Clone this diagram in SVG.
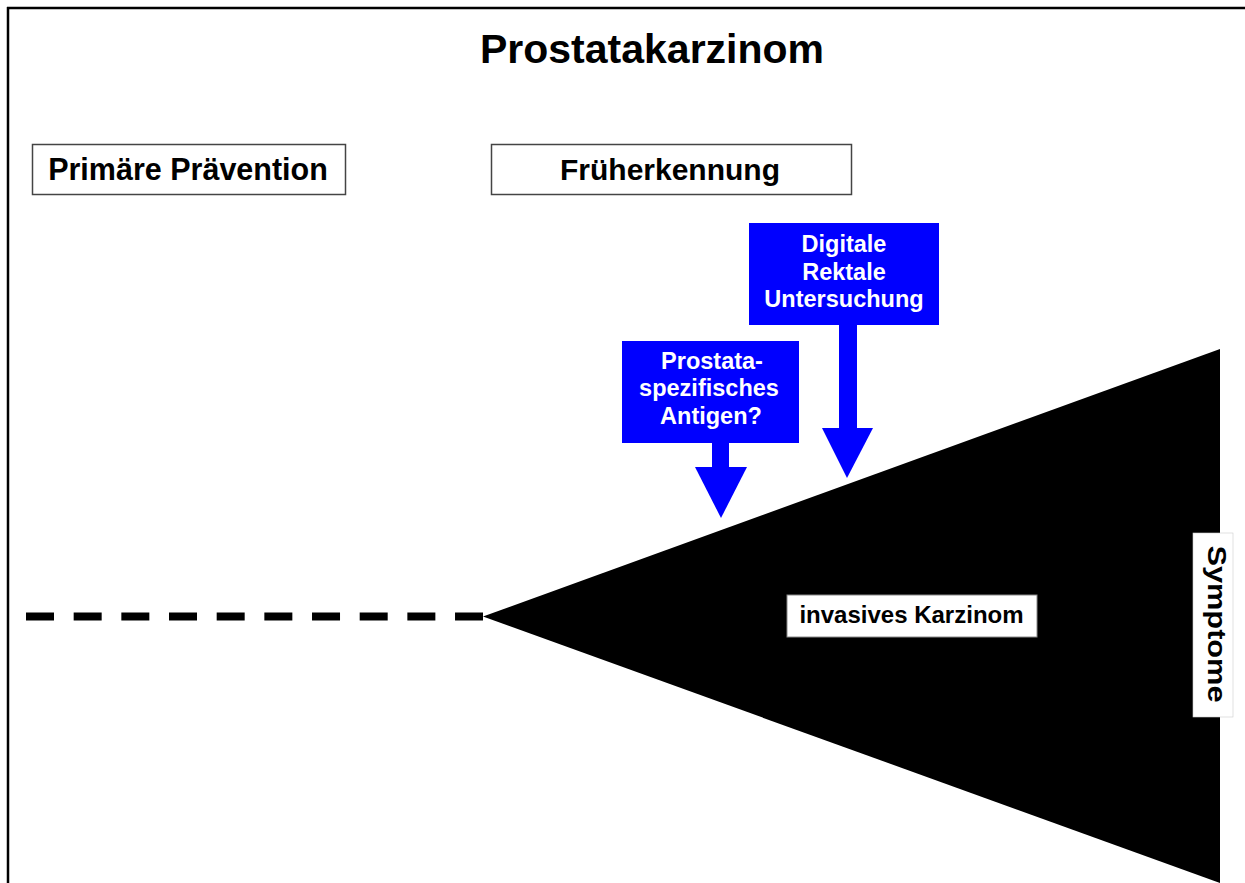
<svg xmlns="http://www.w3.org/2000/svg" width="1245" height="883" viewBox="0 0 1245 883">
<style>
  .t{font-family:"Liberation Sans",Arial,sans-serif;font-weight:bold;text-anchor:middle}
  .hdr{fill:#fff;stroke:#444;stroke-width:1.5}
  .blue{fill:#0000ff}
  .wt{fill:#fff;font-size:23.5px}
</style>
<rect width="1245" height="883" fill="#fff"/>
<g id="frame">
  <line x1="7" y1="8" x2="1245" y2="8" stroke="#000" stroke-width="2.5"/>
  <line x1="8" y1="7" x2="8" y2="883" stroke="#000" stroke-width="2.5"/>
</g>
<text id="title" class="t" x="652" y="63" font-size="41">Prostatakarzinom</text>
<g id="primaere">
  <rect class="hdr" x="32.5" y="144.5" width="313" height="50"/>
  <text class="t" x="188" y="180" font-size="30.5">Primäre Prävention</text>
</g>
<g id="frueh">
  <rect class="hdr" x="491.5" y="144.5" width="360" height="50"/>
  <text class="t" x="670" y="180" font-size="30">Früherkennung</text>
</g>
<g id="connectors">
  <line x1="26" y1="616.5" x2="483" y2="616.5" stroke="#000" stroke-width="8" stroke-dasharray="28 19.67"/>
</g>
<g id="tumor">
  <polygon points="483,616.5 1220,349 1220,883" fill="#000"/>
</g>
<g id="dru">
  <rect class="blue" x="749" y="223" width="190" height="102"/>
  <rect class="blue" x="839" y="324" width="18" height="105"/>
  <polygon class="blue" points="822,428 873,428 847,478"/>
  <text class="t wt" x="844" y="252">Digitale</text>
  <text class="t wt" x="844" y="280">Rektale</text>
  <text class="t wt" x="844" y="307">Untersuchung</text>
</g>
<g id="psa">
  <rect class="blue" x="622" y="341" width="177" height="102"/>
  <rect class="blue" x="712" y="442" width="17" height="26"/>
  <polygon class="blue" points="695,467 747,467 721,518"/>
  <text class="t wt" x="712" y="369">Prostata-</text>
  <text class="t wt" x="709" y="396">spezifisches</text>
  <text class="t wt" x="711" y="424">Antigen?</text>
</g>
<g id="invasiv">
  <rect x="787" y="595" width="250" height="42" fill="#fff" stroke="#888" stroke-width="1"/>
  <text class="t" x="911.5" y="623" font-size="24">invasives Karzinom</text>
</g>
<g id="symptome">
  <rect x="1193" y="533" width="40" height="184" fill="#fff" stroke="#ccc" stroke-width="0.6"/>
  <text class="t" transform="translate(1208,624) rotate(90)" x="0" y="0" font-size="25" textLength="157" lengthAdjust="spacingAndGlyphs">Symptome</text>
</g>
</svg>
